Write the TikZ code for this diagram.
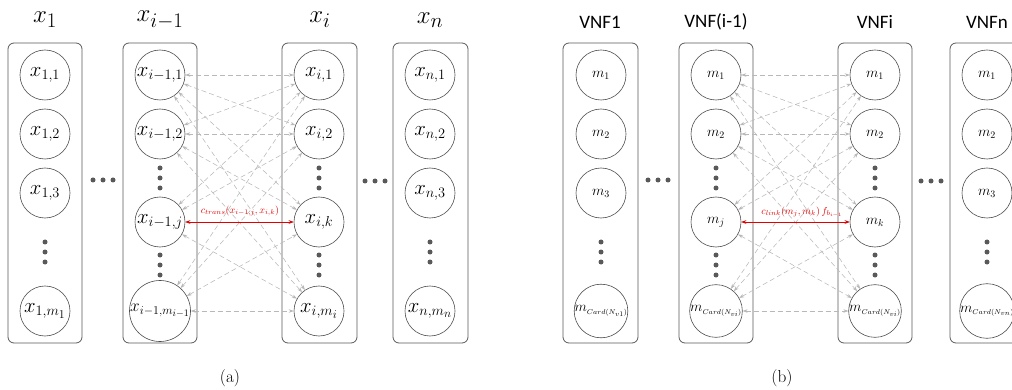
\documentclass[tikz,border=0pt]{standalone}
\usepackage{fontspec}
\newfontfamily\vnffont{Carlito}
\usetikzlibrary{arrows.meta}
\begin{document}
\begin{tikzpicture}[x=1pt,y=-1pt,
  box/.style={draw=black!65, line width=0.8pt, rounded corners=6pt},
  st/.style={circle, draw=black!70, line width=0.6pt, minimum size=50pt, inner sep=0pt, font=\huge},
  stm/.style={st, font=\Large},
  dotn/.style={circle, fill=black!65, inner sep=0pt, minimum size=5pt},
  ttl/.style={font=\Huge},
  vttl/.style={font=\vnffont\fontsize{19}{22}\selectfont},
  subcap/.style={font=\LARGE},
  link/.style={draw=black!28, dash pattern=on 5pt off 3pt, line width=0.55pt, {Stealth[length=5pt,width=3.5pt]}-{Stealth[length=5pt,width=3.5pt]}},
  redl/.style={draw=red!90!black, line width=0.8pt, {Stealth[length=5pt,width=3.5pt]}-{Stealth[length=5pt,width=3.5pt]}},
  redt/.style={text=red!90!black, font=\normalsize, inner sep=1pt}]
\useasboundingbox (0,0) rectangle (1012,390);

% ---------- (a) ----------
\draw[box] (8,43) rectangle (82,343);
\draw[box] (123,43) rectangle (197,343);
\draw[box] (282,43) rectangle (357,343);
\draw[box] (393,43) rectangle (468,343);

\node[ttl] (ta1) at (45,20) {$x_1$};
\node[ttl] (ta2) at (160,20) {$x_{i-1}$};
\node[ttl] (ta3) at (320,20) {$x_i$};
\node[ttl] (ta4) at (430,20) {$x_n$};

% box 1
\node[st] (a1-1) at (45,75) {$x_{1,1}$};
\node[st] (a1-2) at (45,134) {$x_{1,2}$};
\node[st] (a1-3) at (45,193) {$x_{1,3}$};
\node[dotn] (a1-d1) at (45,242) {};
\node[dotn] (a1-d2) at (45,252) {};
\node[dotn] (a1-d3) at (45,262) {};
\node[st] (a1-m) at (45,311) {$x_{1,m_1}$};
% box 2
\node[st] (a2-1) at (160,75) {$x_{i-1,1}$};
\node[st] (a2-2) at (160,134) {$x_{i-1,2}$};
\node[dotn] (a2-d1) at (160,168) {};
\node[dotn] (a2-d2) at (160,178) {};
\node[dotn] (a2-d3) at (160,188) {};
\node[st] (a2-j) at (160,222) {$x_{i-1,j}$};
\node[dotn] (a2-e1) at (160,255) {};
\node[dotn] (a2-e2) at (160,265) {};
\node[dotn] (a2-e3) at (160,275) {};
\node[st, font=\LARGE] (a2-m) at (160,311) {$x_{i-1,m_{i-1}}$};
% box 3
\node[st] (a3-1) at (319,75) {$x_{i,1}$};
\node[st] (a3-2) at (319,134) {$x_{i,2}$};
\node[dotn] (a3-d1) at (319,168) {};
\node[dotn] (a3-d2) at (319,178) {};
\node[dotn] (a3-d3) at (319,188) {};
\node[st] (a3-k) at (319,222) {$x_{i,k}$};
\node[dotn] (a3-e1) at (319,255) {};
\node[dotn] (a3-e2) at (319,265) {};
\node[dotn] (a3-e3) at (319,275) {};
\node[st] (a3-m) at (319,311) {$x_{i,m_i}$};
% box 4
\node[st] (a4-1) at (430,75) {$x_{n,1}$};
\node[st] (a4-2) at (430,134) {$x_{n,2}$};
\node[st] (a4-3) at (430,193) {$x_{n,3}$};
\node[dotn] (a4-d1) at (430,242) {};
\node[dotn] (a4-d2) at (430,252) {};
\node[dotn] (a4-d3) at (430,262) {};
\node[st] (a4-m) at (430,311) {$x_{n,m_n}$};
% ellipses between boxes
\node[dotn] (ah1) at (93,180) {};
\node[dotn] (ah2) at (103,180) {};
\node[dotn] (ah3) at (113,180) {};
\node[dotn] (ah4) at (365,181) {};
\node[dotn] (ah5) at (375,181) {};
\node[dotn] (ah6) at (385,181) {};

\foreach \s in {1,2,j,m}{
  \foreach \t in {1,2,k,m}{
    \draw[link] (a2-\s) -- (a3-\t);
  }
}
\draw[redl] (a2-j.east) -- (a3-k.west);
\node[redt] (ra) at (240,211) {$c_{trans}(x_{i-1,j},x_{i,k})$};

\node[subcap] (capa) at (230,378) {(a)};

% ---------- (b) ----------
\draw[box] (563,43) rectangle (638,343);
\draw[box] (679,43) rectangle (753,343);
\draw[box] (838,43) rectangle (912,343);
\draw[box] (950,43) rectangle (1025,343);

\node[vttl] (tb1) at (600,22) {VNF1};
\node[vttl] (tb2) at (716,22) {VNF(i-1)};
\node[vttl] (tb3) at (875,22) {VNFi};
\node[vttl] (tb4) at (987,22) {VNFn};

% VNF1
\node[stm] (b1-1) at (601,75) {$m_1$};
\node[stm] (b1-2) at (601,134) {$m_2$};
\node[stm] (b1-3) at (601,193) {$m_3$};
\node[dotn] (b1-d1) at (601,242) {};
\node[dotn] (b1-d2) at (601,252) {};
\node[dotn] (b1-d3) at (601,262) {};
\node[stm] (b1-m) at (601,311) {$m_{\scriptscriptstyle Card(N_{v1})}$};
% VNF(i-1)
\node[stm] (b2-1) at (716,75) {$m_1$};
\node[stm] (b2-2) at (716,134) {$m_2$};
\node[dotn] (b2-d1) at (716,168) {};
\node[dotn] (b2-d2) at (716,178) {};
\node[dotn] (b2-d3) at (716,188) {};
\node[stm] (b2-j) at (716,222) {$m_j$};
\node[dotn] (b2-e1) at (716,255) {};
\node[dotn] (b2-e2) at (716,265) {};
\node[dotn] (b2-e3) at (716,275) {};
\node[stm] (b2-m) at (716,311) {$m_{\scriptscriptstyle Card(N_{vi})}$};
% VNFi
\node[stm] (b3-1) at (875,75) {$m_1$};
\node[stm] (b3-2) at (875,134) {$m_2$};
\node[dotn] (b3-d1) at (875,168) {};
\node[dotn] (b3-d2) at (875,178) {};
\node[dotn] (b3-d3) at (875,188) {};
\node[stm] (b3-k) at (875,222) {$m_k$};
\node[dotn] (b3-e1) at (875,255) {};
\node[dotn] (b3-e2) at (875,265) {};
\node[dotn] (b3-e3) at (875,275) {};
\node[stm] (b3-m) at (875,311) {$m_{\scriptscriptstyle Card(N_{vi})}$};
% VNFn
\node[stm] (b4-1) at (987,75) {$m_1$};
\node[stm] (b4-2) at (987,134) {$m_2$};
\node[stm] (b4-3) at (987,193) {$m_3$};
\node[dotn] (b4-d1) at (987,242) {};
\node[dotn] (b4-d2) at (987,252) {};
\node[dotn] (b4-d3) at (987,262) {};
\node[stm] (b4-m) at (987,311) {$m_{\scriptscriptstyle Card(N_{vn})}$};
% ellipses
\node[dotn] (bh1) at (648,180) {};
\node[dotn] (bh2) at (658,180) {};
\node[dotn] (bh3) at (668,180) {};
\node[dotn] (bh4) at (921,181) {};
\node[dotn] (bh5) at (931,181) {};
\node[dotn] (bh6) at (941,181) {};

\foreach \s in {1,2,j,m}{
  \foreach \t in {1,2,k,m}{
    \draw[link] (b2-\s) -- (b3-\t);
  }
}
\draw[redl] (b2-j.east) -- (b3-k.west);
\node[redt] (rb) at (802,212) {$c_{link}(m_j,m_k)\,f_{b_{i-1}}$};

\node[subcap] (capb) at (782,378) {(b)};
\end{tikzpicture}
\end{document}
